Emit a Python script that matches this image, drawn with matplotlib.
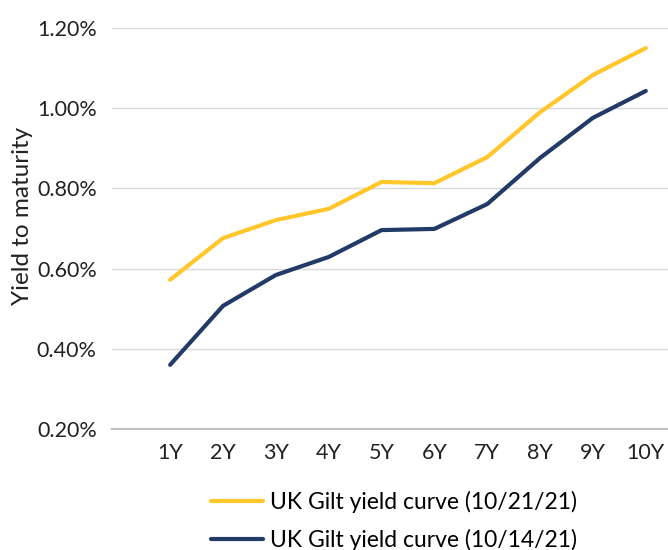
import matplotlib.pyplot as plt
from matplotlib.ticker import FuncFormatter

plt.rcParams['font.family'] = ['Lato', 'DejaVu Sans']

tenors = ["1Y", "2Y", "3Y", "4Y", "5Y", "6Y", "7Y", "8Y", "9Y", "10Y"]
yield_oct21 = [0.572, 0.676, 0.721, 0.749, 0.816, 0.813, 0.878, 0.990, 1.083, 1.150]
yield_oct14 = [0.360, 0.507, 0.584, 0.629, 0.696, 0.699, 0.761, 0.876, 0.976, 1.043]
yticks = [0.20, 0.40, 0.60, 0.80, 1.00, 1.20]

yellow = "#FFC72C"
navy = "#223A66"

fig = plt.figure(figsize=(6.68, 5.5), dpi=100)
ax = fig.add_axes([112 / 668, 1 - 429 / 550, 556 / 668, 401 / 550])

x = range(len(tenors))
ax.plot(x, yield_oct21, color=yellow, lw=3, solid_capstyle='round',
        label="UK Gilt yield curve (10/21/21)")
ax.plot(x, yield_oct14, color=navy, lw=3, solid_capstyle='round',
        label="UK Gilt yield curve (10/14/21)")

ax.set_ylim(0.20, 1.20)
ax.set_xlim(-1.1, 9.42)
ax.set_yticks(yticks)
ax.yaxis.set_major_formatter(FuncFormatter(lambda v, p: f"{v:.2f}%"))
ax.set_xticks(list(x))
ax.set_xticklabels(tenors)
ax.tick_params(length=0, labelsize=15.5, colors="#222222")
ax.tick_params(axis='x', pad=10)
ax.tick_params(axis='y', pad=11)

ax.grid(axis='y', color="#d9d9d9", lw=1)
ax.set_axisbelow(True)
for s in ["top", "right", "left"]:
    ax.spines[s].set_visible(False)
ax.spines["bottom"].set_color("#bfbfbf")
ax.spines["bottom"].set_linewidth(1.5)

fig.text(23 / 668, 1 - 216 / 550, "Yield to maturity", rotation=90,
         ha='center', va='center', fontsize=17.5, color="#222222")

fig.legend(loc='upper left', bbox_to_anchor=(190 / 668, 1 - 470 / 550),
           frameon=False, fontsize=16.5, handlelength=2.3, handletextpad=0.3,
           labelspacing=0.72)

fig.savefig("out.png", dpi=100)
